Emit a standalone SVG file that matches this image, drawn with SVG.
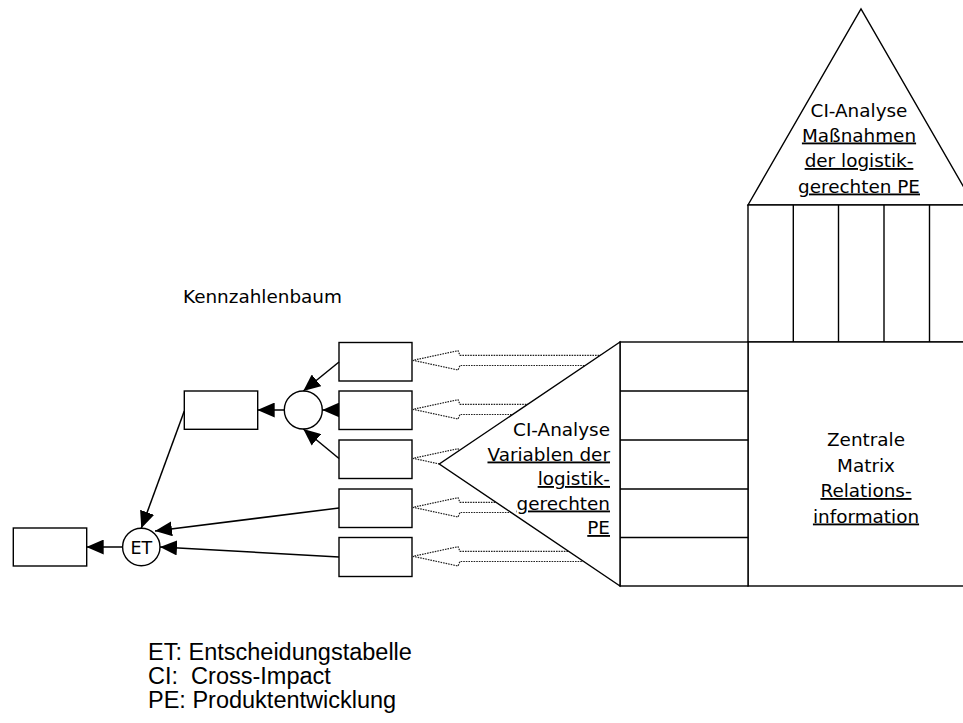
<svg xmlns="http://www.w3.org/2000/svg" width="963" height="723" viewBox="0 0 963 723">
<style>
.ln{fill:none;stroke:#000;stroke-width:1.4}
.bx{fill:#fff;stroke:#000;stroke-width:1.4}
.dot{fill:#fff;stroke:#222;stroke-width:1.2;stroke-dasharray:1.6 1}
.t{font-family:"DejaVu Sans",Verdana,sans-serif;font-size:18.4px;fill:#000}
.u{text-decoration:underline}
.lg{font-family:"Liberation Sans",Arial,sans-serif;font-size:23.5px;fill:#000;white-space:pre}
.c{stroke:#000;stroke-width:1.5;fill:none;marker-end:url(#ah)}
</style>
<defs>
<marker id="ah" markerUnits="userSpaceOnUse" markerWidth="17" markerHeight="15" refX="17" refY="7.5" orient="auto">
<path d="M0,0 L17,7.5 L0,15 z" fill="#000"/>
</marker>
</defs>
<rect width="963" height="723" fill="#fff"/>

<g id="dotted-arrows">
<path class="dot" d="M620,355.3 L460,355.3 L458,350.7 L413,360.3 L458,370 L460,365.5 L620,365.5"/>
<path class="dot" d="M620,404.3 L460,404.3 L458,399.7 L413,409.3 L458,419 L460,414.5 L620,414.5"/>
<path class="dot" d="M620,453.3 L460,453.3 L458,448.7 L413,458.3 L458,468 L460,463.5 L620,463.5"/>
<path class="dot" d="M620,502.3 L460,502.3 L458,497.7 L413,507.3 L458,517 L460,512.5 L620,512.5"/>
<path class="dot" d="M620,551.3 L460,551.3 L458,546.7 L413,556.3 L458,566 L460,561.5 L620,561.5"/>
</g>

<g id="roof">
<polygon class="bx" points="748,205 861,9 974,205"/>
<text class="t" x="859" y="116.7" text-anchor="middle">CI-Analyse</text>
<text class="t u" x="859" y="141.5" text-anchor="middle">Maßnahmen</text>
<text class="t u" x="859" y="167" text-anchor="middle">der logistik-</text>
<text class="t u" x="859" y="192.5" text-anchor="middle">gerechten PE</text>
</g>

<g id="columns">
<rect class="bx" x="748" y="205" width="230" height="137"/>
<line class="ln" x1="793.3" y1="205" x2="793.3" y2="342"/>
<line class="ln" x1="838.5" y1="205" x2="838.5" y2="342"/>
<line class="ln" x1="884" y1="205" x2="884" y2="342"/>
<line class="ln" x1="929.5" y1="205" x2="929.5" y2="342"/>
</g>

<g id="matrix">
<rect class="bx" x="748" y="342" width="230" height="244"/>
<text class="t" x="866" y="446" text-anchor="middle">Zentrale</text>
<text class="t" x="866" y="471.5" text-anchor="middle">Matrix</text>
<text class="t u" x="866" y="497" text-anchor="middle">Relations-</text>
<text class="t u" x="866" y="522.5" text-anchor="middle">information</text>
</g>

<g id="row-table">
<rect class="bx" x="620" y="342" width="128" height="244"/>
<line class="ln" x1="620" y1="391" x2="748" y2="391"/>
<line class="ln" x1="620" y1="440" x2="748" y2="440"/>
<line class="ln" x1="620" y1="489" x2="748" y2="489"/>
<line class="ln" x1="620" y1="537.5" x2="748" y2="537.5"/>
</g>

<g id="left-triangle">
<polygon class="bx" points="620,342 439.3,464 620,586"/>
<text class="t" x="610" y="436" text-anchor="end">CI-Analyse</text>
<text class="t u" x="610" y="460.5" text-anchor="end">Variablen der</text>
<text class="t u" x="610" y="485" text-anchor="end">logistik-</text>
<text class="t u" x="610" y="509.5" text-anchor="end">gerechten</text>
<text class="t u" x="610" y="534" text-anchor="end">PE</text>
</g>

<g id="title"><text class="t" x="183" y="302.5">Kennzahlenbaum</text></g>

<g id="b1"><rect class="bx" x="339" y="342.5" width="73" height="38.5"/></g>
<g id="b2"><rect class="bx" x="339" y="391" width="73" height="38.5"/></g>
<g id="b3"><rect class="bx" x="339" y="440" width="73" height="38.5"/></g>
<g id="b4"><rect class="bx" x="339" y="489" width="73" height="38.5"/></g>
<g id="b5"><rect class="bx" x="339" y="537.5" width="73" height="39"/></g>
<g id="mid"><rect class="bx" x="184.3" y="391" width="73.4" height="38.3"/></g>
<g id="res"><rect class="bx" x="13.3" y="528" width="73.4" height="38"/></g>
<g id="agg"><circle class="bx" cx="303.3" cy="410" r="19"/></g>
<g id="et"><circle class="bx" cx="141.3" cy="547" r="18.7"/>
<text class="t" x="141.3" y="553.5" text-anchor="middle" style="font-size:17.5px">ET</text></g>

<g id="connectors">
<line class="c" x1="339" y1="362" x2="303.3" y2="391"/>
<line class="c" x1="339" y1="410" x2="322.3" y2="410"/>
<line class="c" x1="339" y1="458.5" x2="303.3" y2="429"/>
<line class="c" x1="284.3" y1="410" x2="257.7" y2="410"/>
<line class="c" x1="184.3" y1="411" x2="141.3" y2="528.3"/>
<line class="c" x1="339" y1="508" x2="155" y2="531"/>
<line class="c" x1="339" y1="557" x2="160" y2="547"/>
<line class="c" x1="122.6" y1="547" x2="86.7" y2="547"/>
</g>

<g id="legend">
<text class="lg" x="148" y="660">ET: Entscheidungstabelle</text>
<text class="lg" x="148" y="684">CI:  Cross-Impact</text>
<text class="lg" x="148" y="708">PE: Produktentwicklung</text>
</g>
</svg>
